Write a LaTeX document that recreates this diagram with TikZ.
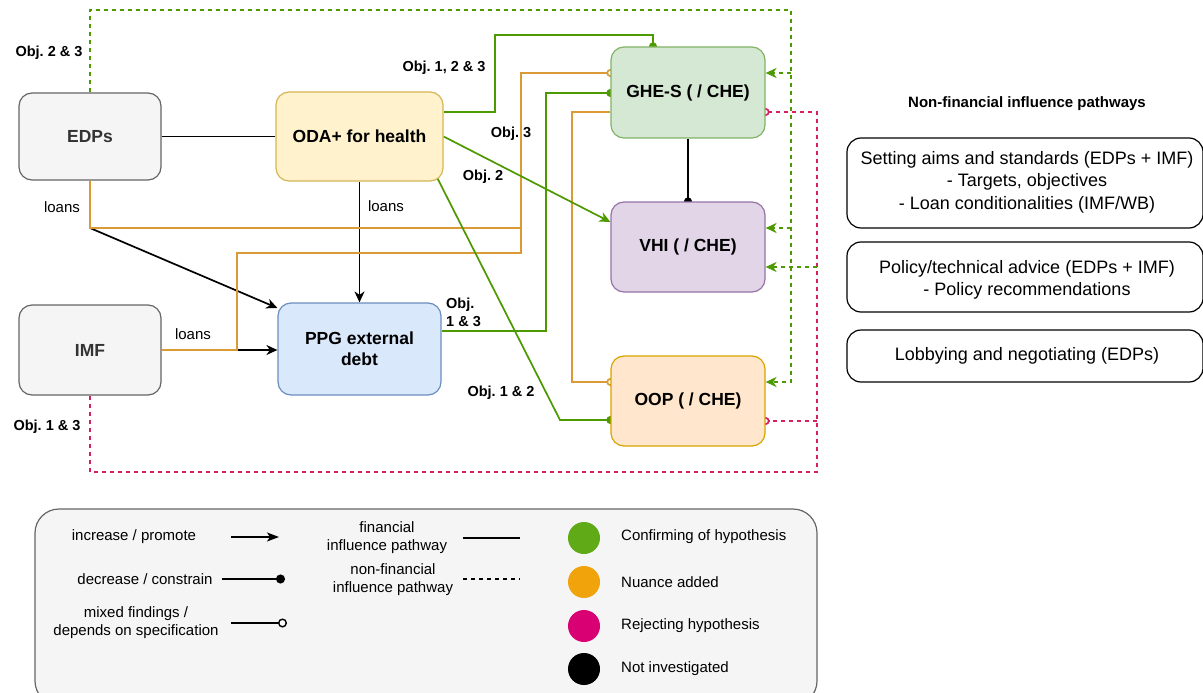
\documentclass[tikz,border=0pt]{standalone}
\usepackage{fontspec}
\setmainfont{Liberation Sans}
\frenchspacing
\usetikzlibrary{arrows.meta,backgrounds}
\definecolor{grn}{HTML}{4D9900}
\definecolor{org}{HTML}{DA9A35}
\definecolor{pnk}{HTML}{D6205E}
\definecolor{lgreen}{HTML}{60A917}
\definecolor{lorange}{HTML}{F0A30A}
\definecolor{lpink}{HTML}{D80073}
\definecolor{txtgray}{HTML}{333333}
\definecolor{odaF}{HTML}{FFF2CC}\definecolor{odaD}{HTML}{D6B656}
\definecolor{ppgF}{HTML}{DAE8FC}\definecolor{ppgD}{HTML}{6C8EBF}
\definecolor{gheF}{HTML}{D5E8D4}\definecolor{gheD}{HTML}{82B366}
\definecolor{vhiF}{HTML}{E1D5E7}\definecolor{vhiD}{HTML}{9673A6}
\definecolor{oopF}{HTML}{FFE6CC}\definecolor{oopD}{HTML}{D7A500}
\begin{document}
\begin{tikzpicture}[x=1pt,y=-1pt,
  nb/.style={draw, rounded corners=13pt, line width=1.2pt, align=center,
    font=\fontsize{17.5}{21}\selectfont\bfseries, inner sep=0pt},
  lbl/.style={font=\fontsize{14.5}{18}\selectfont\bfseries, inner sep=0pt, align=left},
  lns/.style={font=\fontsize{15}{18}\selectfont, inner sep=0pt},
  leg/.style={font=\fontsize{15}{18}\selectfont, inner sep=0pt, align=center},
  rbox/.style={draw, rounded corners=14pt, line width=1.2pt, fill=white},
  rtxt/.style={font=\fontsize{18}{22.5}\selectfont, align=center, inner sep=0pt},
  con/.style={line width=1.7pt},
  dsh/.style={line width=1.7pt, dash pattern=on 4pt off 4pt},
  arr/.style={-{Stealth[length=11pt,width=10pt,inset=3.5pt]}},
  dotend/.style={-{Circle[length=8pt]}, shorten >=-4pt},
  oend/.style={-{Circle[open,length=8pt,fill=white]}, shorten >=-4pt},
  legdot/.style={circle, minimum size=32pt, inner sep=0pt}
]
\useasboundingbox (0,0) rectangle (1203,693);
\clip (0,0) rectangle (1203,693);

% main nodes
\node[nb, fill=black!4, draw=black!60, text=txtgray, minimum width=142pt, minimum height=87pt] (EDPs) at (90,136.5) {EDPs};
\node[nb, fill=black!4, draw=black!60, text=txtgray, minimum width=142pt, minimum height=90pt] (IMF) at (90,350) {IMF};
\node[nb, fill=odaF, draw=odaD, minimum width=167pt, minimum height=89pt] (ODA) at (359.5,136.5) {ODA+ for health};
\node[nb, fill=ppgF, draw=ppgD, minimum width=163pt, minimum height=92pt] (PPG) at (359.5,349) {PPG external\\debt};
\node[nb, fill=gheF, draw=gheD, minimum width=154pt, minimum height=91pt] (GHE) at (688,92.5) {GHE-S ( / CHE)};
\node[nb, fill=vhiF, draw=vhiD, minimum width=154pt, minimum height=90pt] (VHI) at (688,247) {VHI ( / CHE)};
\node[nb, fill=oopF, draw=oopD, minimum width=154pt, minimum height=90pt] (OOP) at (688,401) {OOP ( / CHE)};

\begin{scope}[on background layer]
\fill[white] (0,0) rectangle (1203,693);
% black financial
\draw[con] (EDPs) -- (ODA);
\draw[con, arr] (ODA.south) -- (PPG.north);
\coordinate (edpl) at (90,228);
\coordinate (imfl) at (237,350);
\draw[con, arr] (edpl) -- (PPG.west |- 0,308);
\draw[con, arr] (imfl) -- (PPG.west |- 0,350);
\draw[con, dotend] (GHE.south) -- (VHI.north);
% orange
\draw[con, org, oend] (EDPs.south) -- (edpl) -- (521,228) -- (521,73) -- (GHE.west |- 0,73);
\draw[con, org] (IMF.east) -- (imfl) -- (237,253) -- (521,253) -- (521,228);
\draw[con, org, oend] (GHE.west |- 0,112) -- (572,112) -- (572,382) -- (OOP.west |- 0,382);
% green
\draw[con, grn, dotend] (ODA.east |- 0,112) -- (495,112) -- (495,35) -- (653,35) -- (GHE.north -| 653,0);
\draw[con, grn, arr] (ODA.east) -- (VHI.west |- 0,222);
\draw[con, grn, dotend] ([xshift=-6pt,yshift=3pt]ODA.south east) -- (560,420) -- (OOP.west |- 0,420);
\draw[con, grn, dotend] (PPG.east |- 0,331) -- (546,331) -- (546,93) -- (GHE.west |- 0,93);
% dashed green (EDPs)
\draw[dsh, grn, arr] (EDPs.north) -- (90,10) -- (791,10) -- (791,382) -- (OOP.east |- 0,382);
\draw[dsh, grn, arr] (791,73) -- (GHE.east |- 0,73);
\draw[dsh, grn, arr] (791,228) -- (VHI.east |- 0,228);
% dashed pink (IMF)
\draw[dsh, pnk, oend] (IMF.south) -- (90,472) -- (817,472) -- (817,112) -- (GHE.east |- 0,112);
\draw[dsh, pnk, oend] (817,421) -- (OOP.east |- 0,421);
\draw[dsh, grn, arr] (817,267) -- (VHI.east |- 0,267);
\end{scope}

% labels
\node[lbl] (o23) at (49,53) {Obj. 2 \& 3};
\node[lbl] (o123) at (444,68) {Obj. 1, 2 \& 3};
\node[lbl] (o3) at (511,134) {Obj. 3};
\node[lbl] (o2) at (483,177) {Obj. 2};
\node[lbl, anchor=west] (o13a) at (446,312) {Obj.\\1 \& 3};
\node[lbl] (o12) at (501,393) {Obj. 1 \& 2};
\node[lbl] (o13b) at (47,427) {Obj. 1 \& 3};
\node[lns] (l1) at (62,207) {loans};
\node[lns] (l2) at (386,206) {loans};
\node[lns] (l3) at (193,334) {loans};

% right panel
\node[font=\fontsize{15}{18}\selectfont\bfseries, inner sep=0pt] (nft) at (1027,104) {Non-financial influence pathways};
\draw[rbox] (847,138) rectangle (1203,228);
\node[rtxt] (r1) at (1027,182) {Setting aims and standards (EDPs + IMF)\\- Targets, objectives\\- Loan conditionalities (IMF/WB)};
\draw[rbox] (847,242) rectangle (1203,312);
\node[rtxt] (r2) at (1027,280) {Policy/technical advice (EDPs + IMF)\\- Policy recommendations};
\draw[rbox] (847,330) rectangle (1203,382);
\node[rtxt] (r3) at (1027,356) {Lobbying and negotiating (EDPs)};

% legend
\draw[rounded corners=24pt, fill=black!4, draw=black!60, line width=1.2pt] (35,509) rectangle (817,705);
\node[leg] (t1) at (134,537) {increase / promote};
\node[leg] (t2) at (145,579) {decrease / constrain};
\node[leg] (t3) at (136,623) {mixed findings /\\depends on specification};
\node[leg] (t4) at (387,538) {financial\\influence pathway};
\node[leg] (t5) at (393,580) {non-financial\\influence pathway};
\coordinate (a1) at (231,537); \coordinate (b1) at (279,537);
\coordinate (a2) at (222,579); \coordinate (b2) at (285,579);
\coordinate (a3) at (231,623); \coordinate (b3) at (287,623);
\coordinate (a4) at (463,538); \coordinate (b4) at (520,538);
\coordinate (a5) at (463,579); \coordinate (b5) at (520,579);
\draw[line width=1.4pt, -{Stealth[length=12pt,width=9pt,inset=3pt]}] (a1) -- (b1);
\draw[line width=1.4pt, -{Circle[length=9pt]}] (a2) -- (b2);
\draw[line width=1.4pt, -{Circle[open,length=9pt,fill=white]}] (a3) -- (b3);
\draw[line width=1.3pt] (a4) -- (b4);
\draw[line width=1.3pt, dash pattern=on 4pt off 4pt] (a5) -- (b5);
\node[legdot, fill=lgreen] (c1) at (584,538) {};
\node[legdot, fill=lorange] (c2) at (584,582) {};
\node[legdot, fill=lpink] (c3) at (584,626) {};
\node[legdot, fill=black] (c4) at (584,669) {};
\node[leg, anchor=west] (d1) at (621,537) {Confirming of hypothesis};
\node[leg, anchor=west] (d2) at (621,582) {Nuance added};
\node[leg, anchor=west] (d3) at (621,626) {Rejecting hypothesis};
\node[leg, anchor=west] (d4) at (621,669) {Not investigated};
\end{tikzpicture}
\end{document}
